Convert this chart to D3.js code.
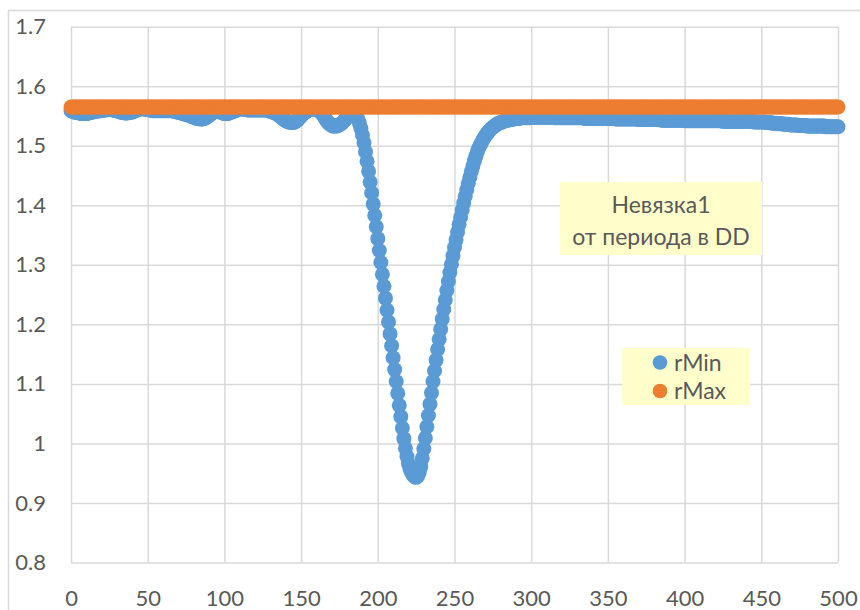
<!DOCTYPE html>
<html>
<head>
<meta charset="utf-8">
<script src="https://cdn.jsdelivr.net/npm/d3@7"></script>
<style>
  body { margin: 0; background: #fff; }
  svg { display: block; }
</style>
</head>
<body>
<svg id="chart" width="860" height="610"></svg>
<script>
// axis ticks
const xTicks = [0, 50, 100, 150, 200, 250, 300, 350, 400, 450, 500]
const yTicks = [0.8, 0.9, 1, 1.1, 1.2, 1.3, 1.4, 1.5, 1.6, 1.7]

// period, one sample per unit
const xs = d3.range(0, 501)

// rMin (x = 0..500)
const rMin = [
  1.559,1.558,1.557,1.556,1.556,1.555,1.555,1.554,1.554,1.554,
  1.554,1.555,1.555,1.556,1.557,1.557,1.558,1.558,1.559,1.559,
  1.559,1.560,1.560,1.560,1.561,1.561,1.561,1.560,1.560,1.559,
  1.559,1.558,1.557,1.556,1.556,1.555,1.555,1.555,1.556,1.556,
  1.557,1.558,1.559,1.560,1.561,1.562,1.562,1.562,1.562,1.561,
  1.561,1.560,1.560,1.559,1.559,1.559,1.559,1.559,1.559,1.559,
  1.559,1.559,1.559,1.559,1.559,1.559,1.559,1.558,1.558,1.557,
  1.556,1.556,1.555,1.554,1.553,1.553,1.552,1.551,1.550,1.549,
  1.548,1.547,1.546,1.546,1.545,1.545,1.545,1.546,1.547,1.549,
  1.551,1.553,1.555,1.557,1.558,1.559,1.558,1.557,1.556,1.555,
  1.554,1.554,1.554,1.555,1.556,1.557,1.558,1.559,1.560,1.561,
  1.562,1.562,1.562,1.561,1.561,1.560,1.560,1.560,1.560,1.560,
  1.560,1.560,1.560,1.560,1.560,1.560,1.560,1.560,1.560,1.559,
  1.558,1.557,1.556,1.555,1.554,1.552,1.550,1.548,1.546,1.544,
  1.542,1.541,1.540,1.539,1.539,1.539,1.540,1.542,1.544,1.547,
  1.550,1.553,1.555,1.557,1.559,1.560,1.561,1.562,1.562,1.562,
  1.561,1.560,1.558,1.556,1.553,1.549,1.545,1.541,1.538,1.536,
  1.534,1.533,1.533,1.533,1.534,1.535,1.537,1.539,1.542,1.545,
  1.548,1.551,1.553,1.554,1.554,1.553,1.550,1.545,1.538,1.529,
  1.518,1.505,1.490,1.474,1.457,1.439,1.421,1.402,1.383,1.364,
  1.344,1.324,1.304,1.284,1.264,1.244,1.224,1.204,1.184,1.164,
  1.144,1.124,1.104,1.084,1.064,1.045,1.026,1.008,0.992,0.978,
  0.966,0.957,0.951,0.947,0.944,0.943,0.945,0.951,0.961,0.975,
  0.991,1.009,1.028,1.047,1.066,1.085,1.104,1.122,1.140,1.158,
  1.175,1.192,1.209,1.225,1.241,1.257,1.272,1.287,1.301,1.315,
  1.329,1.342,1.355,1.368,1.380,1.392,1.404,1.415,1.426,1.437,
  1.447,1.457,1.466,1.475,1.483,1.491,1.497,1.502,1.507,1.512,
  1.516,1.520,1.523,1.526,1.529,1.531,1.533,1.535,1.537,1.538,
  1.539,1.540,1.541,1.542,1.543,1.543,1.544,1.544,1.545,1.545,
  1.546,1.546,1.546,1.547,1.547,1.547,1.547,1.547,1.547,1.547,
  1.548,1.548,1.548,1.548,1.548,1.548,1.548,1.548,1.548,1.548,
  1.548,1.548,1.548,1.548,1.548,1.547,1.547,1.547,1.547,1.547,
  1.547,1.547,1.547,1.547,1.547,1.547,1.547,1.547,1.547,1.547,
  1.547,1.547,1.547,1.547,1.547,1.546,1.546,1.546,1.546,1.546,
  1.546,1.546,1.546,1.546,1.546,1.546,1.546,1.546,1.546,1.546,
  1.546,1.546,1.546,1.546,1.546,1.545,1.545,1.545,1.545,1.545,
  1.545,1.545,1.545,1.545,1.545,1.545,1.545,1.545,1.545,1.545,
  1.544,1.544,1.544,1.544,1.544,1.544,1.544,1.544,1.544,1.544,
  1.544,1.544,1.544,1.544,1.544,1.543,1.543,1.543,1.543,1.543,
  1.543,1.543,1.543,1.543,1.543,1.543,1.543,1.543,1.543,1.543,
  1.542,1.542,1.542,1.542,1.542,1.542,1.542,1.542,1.542,1.542,
  1.542,1.542,1.542,1.542,1.542,1.542,1.542,1.542,1.542,1.542,
  1.542,1.542,1.542,1.542,1.542,1.541,1.541,1.541,1.541,1.541,
  1.541,1.541,1.541,1.541,1.541,1.541,1.541,1.541,1.541,1.541,
  1.541,1.541,1.541,1.541,1.541,1.540,1.540,1.540,1.540,1.540,
  1.540,1.540,1.540,1.539,1.539,1.539,1.539,1.538,1.538,1.538,
  1.538,1.537,1.537,1.537,1.537,1.536,1.536,1.536,1.536,1.535,
  1.535,1.535,1.535,1.535,1.534,1.534,1.534,1.534,1.534,1.534,
  1.533,1.533,1.533,1.533,1.533,1.533,1.533,1.533,1.533,1.533,
  1.533,1.533,1.532,1.532,1.532,1.532,1.532,1.532,1.532,1.532,
  1.532
]

// rMax, flat over the whole range (x = 0..500)
const rMax = [
  1.565,1.565,1.565,1.565,1.565,1.565,1.565,1.565,1.565,1.565,1.565,1.565,1.565,1.565,1.565,1.565,1.565,1.565,1.565,1.565,1.565,1.565,1.565,1.565,1.565,
  1.565,1.565,1.565,1.565,1.565,1.565,1.565,1.565,1.565,1.565,1.565,1.565,1.565,1.565,1.565,1.565,1.565,1.565,1.565,1.565,1.565,1.565,1.565,1.565,1.565,
  1.565,1.565,1.565,1.565,1.565,1.565,1.565,1.565,1.565,1.565,1.565,1.565,1.565,1.565,1.565,1.565,1.565,1.565,1.565,1.565,1.565,1.565,1.565,1.565,1.565,
  1.565,1.565,1.565,1.565,1.565,1.565,1.565,1.565,1.565,1.565,1.565,1.565,1.565,1.565,1.565,1.565,1.565,1.565,1.565,1.565,1.565,1.565,1.565,1.565,1.565,
  1.565,1.565,1.565,1.565,1.565,1.565,1.565,1.565,1.565,1.565,1.565,1.565,1.565,1.565,1.565,1.565,1.565,1.565,1.565,1.565,1.565,1.565,1.565,1.565,1.565,
  1.565,1.565,1.565,1.565,1.565,1.565,1.565,1.565,1.565,1.565,1.565,1.565,1.565,1.565,1.565,1.565,1.565,1.565,1.565,1.565,1.565,1.565,1.565,1.565,1.565,
  1.565,1.565,1.565,1.565,1.565,1.565,1.565,1.565,1.565,1.565,1.565,1.565,1.565,1.565,1.565,1.565,1.565,1.565,1.565,1.565,1.565,1.565,1.565,1.565,1.565,
  1.565,1.565,1.565,1.565,1.565,1.565,1.565,1.565,1.565,1.565,1.565,1.565,1.565,1.565,1.565,1.565,1.565,1.565,1.565,1.565,1.565,1.565,1.565,1.565,1.565,
  1.565,1.565,1.565,1.565,1.565,1.565,1.565,1.565,1.565,1.565,1.565,1.565,1.565,1.565,1.565,1.565,1.565,1.565,1.565,1.565,1.565,1.565,1.565,1.565,1.565,
  1.565,1.565,1.565,1.565,1.565,1.565,1.565,1.565,1.565,1.565,1.565,1.565,1.565,1.565,1.565,1.565,1.565,1.565,1.565,1.565,1.565,1.565,1.565,1.565,1.565,
  1.565,1.565,1.565,1.565,1.565,1.565,1.565,1.565,1.565,1.565,1.565,1.565,1.565,1.565,1.565,1.565,1.565,1.565,1.565,1.565,1.565,1.565,1.565,1.565,1.565,
  1.565,1.565,1.565,1.565,1.565,1.565,1.565,1.565,1.565,1.565,1.565,1.565,1.565,1.565,1.565,1.565,1.565,1.565,1.565,1.565,1.565,1.565,1.565,1.565,1.565,
  1.565,1.565,1.565,1.565,1.565,1.565,1.565,1.565,1.565,1.565,1.565,1.565,1.565,1.565,1.565,1.565,1.565,1.565,1.565,1.565,1.565,1.565,1.565,1.565,1.565,
  1.565,1.565,1.565,1.565,1.565,1.565,1.565,1.565,1.565,1.565,1.565,1.565,1.565,1.565,1.565,1.565,1.565,1.565,1.565,1.565,1.565,1.565,1.565,1.565,1.565,
  1.565,1.565,1.565,1.565,1.565,1.565,1.565,1.565,1.565,1.565,1.565,1.565,1.565,1.565,1.565,1.565,1.565,1.565,1.565,1.565,1.565,1.565,1.565,1.565,1.565,
  1.565,1.565,1.565,1.565,1.565,1.565,1.565,1.565,1.565,1.565,1.565,1.565,1.565,1.565,1.565,1.565,1.565,1.565,1.565,1.565,1.565,1.565,1.565,1.565,1.565,
  1.565,1.565,1.565,1.565,1.565,1.565,1.565,1.565,1.565,1.565,1.565,1.565,1.565,1.565,1.565,1.565,1.565,1.565,1.565,1.565,1.565,1.565,1.565,1.565,1.565,
  1.565,1.565,1.565,1.565,1.565,1.565,1.565,1.565,1.565,1.565,1.565,1.565,1.565,1.565,1.565,1.565,1.565,1.565,1.565,1.565,1.565,1.565,1.565,1.565,1.565,
  1.565,1.565,1.565,1.565,1.565,1.565,1.565,1.565,1.565,1.565,1.565,1.565,1.565,1.565,1.565,1.565,1.565,1.565,1.565,1.565,1.565,1.565,1.565,1.565,1.565,
  1.565,1.565,1.565,1.565,1.565,1.565,1.565,1.565,1.565,1.565,1.565,1.565,1.565,1.565,1.565,1.565,1.565,1.565,1.565,1.565,1.565,1.565,1.565,1.565,1.565,
  1.565
]

const seriesNames = ['rMin', 'rMax']
const seriesColors = ['#5b9bd5', '#ed7d31']
const titleLines = ['Невязка1', 'от периода в DD']

// layout
const width = 860
const height = 610
const plot = { left: 71, right: 838, top: 26.7, bottom: 562.5 }
const fontFamily = "Lato, 'Noto Sans', sans-serif"
const textColor = '#595959'
const gridColor = '#d9d9d9'
const markerRadius = 7.5

const svg = d3.select('#chart')

// background and chart border
svg.append('rect')
  .attr('width', width)
  .attr('height', height)
  .attr('fill', '#fff')

svg.append('rect')
  .attr('x', 8.5)
  .attr('y', 10.5)
  .attr('width', 900)
  .attr('height', 700)
  .attr('fill', 'none')
  .attr('stroke', gridColor)
  .attr('stroke-width', 1.5)

// scales
const x = d3.scaleLinear([0, 500], [plot.left, plot.right])
const y = d3.scaleLinear([0.8, 1.7], [plot.bottom, plot.top])

// y axis + horizontal grid
svg.append('g')
  .attr('transform', `translate(${plot.left},0)`)
  .call(
    d3.axisLeft(y)
      .tickValues(yTicks)
      .tickSize(-(plot.right - plot.left))
      .tickPadding(25)
      .tickFormat((d) => String(d))
  )
  .call((g) => g.select('.domain').remove())
  .call((g) => g.selectAll('line').attr('stroke', gridColor).attr('stroke-width', 1.5))
  .call((g) =>
    g.selectAll('text')
      .attr('fill', textColor)
      .attr('font-size', 22)
      .attr('font-family', fontFamily)
  )

// x axis + vertical grid
svg.append('g')
  .attr('transform', `translate(0,${plot.bottom})`)
  .call(
    d3.axisBottom(x)
      .tickValues(xTicks)
      .tickSize(-(plot.bottom - plot.top))
      .tickPadding(28)
      .tickFormat((d) => String(d))
  )
  .call((g) => g.select('.domain').remove())
  .call((g) => g.selectAll('line').attr('stroke', gridColor).attr('stroke-width', 1.5))
  .call((g) =>
    g.selectAll('text')
      .attr('fill', textColor)
      .attr('font-size', 22)
      .attr('font-family', fontFamily)
  )

// markers: rMin first, rMax drawn on top
const points = xs.map((d, i) => ({ x: d, values: [rMin[i], rMax[i]] }))

seriesNames.forEach((name, s) => {
  svg.append('g')
    .attr('id', name)
    .selectAll('circle')
    .data(points)
    .join('circle')
    .attr('cx', (d) => x(d.x))
    .attr('cy', (d) => y(d.values[s]))
    .attr('r', markerRadius)
    .attr('fill', seriesColors[s])
})

// title box
const titleBox = svg.append('g').attr('id', 'title')
titleBox.append('rect')
  .attr('x', 560)
  .attr('y', 182)
  .attr('width', 202)
  .attr('height', 73)
  .attr('fill', '#ffffcc')
titleBox.selectAll('text')
  .data(titleLines)
  .join('text')
  .attr('x', 661)
  .attr('y', (d, i) => 213 + i * 32)
  .attr('text-anchor', 'middle')
  .attr('font-size', 23)
  .attr('font-family', fontFamily)
  .attr('fill', textColor)
  .text((d) => d)

// legend
const legend = svg.append('g').attr('id', 'legend')
legend.append('rect')
  .attr('x', 622)
  .attr('y', 348)
  .attr('width', 128)
  .attr('height', 57)
  .attr('fill', '#ffffcc')
const items = legend.selectAll('g')
  .data(seriesNames)
  .join('g')
  .attr('transform', (d, i) => `translate(660,${362.5 + i * 28.5})`)
items.append('circle')
  .attr('r', 7.3)
  .attr('fill', (d, i) => seriesColors[i])
items.append('text')
  .attr('x', 14)
  .attr('y', 8)
  .attr('font-size', 23)
  .attr('font-family', fontFamily)
  .attr('fill', textColor)
  .text((d) => d)
</script>
</body>
</html>
